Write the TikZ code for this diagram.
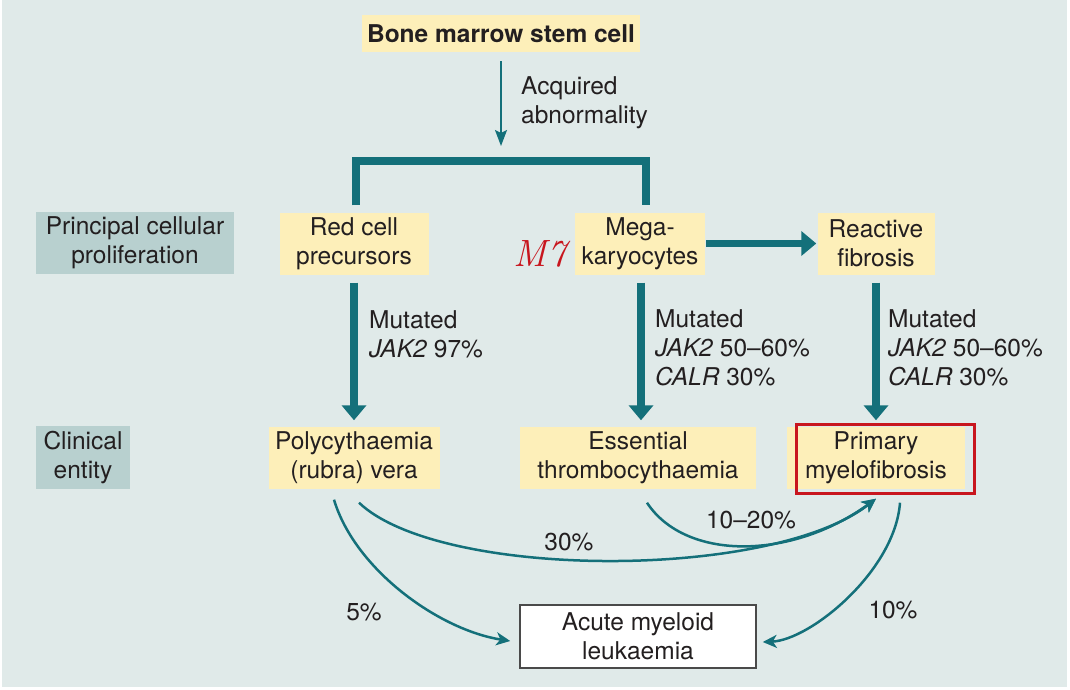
\documentclass[tikz,border=0pt]{standalone}
\usepackage{fontspec}
\setsansfont{TeX Gyre Heros}
\usetikzlibrary{arrows.meta}
\definecolor{bg}{HTML}{E0EAE9}
\definecolor{yel}{HTML}{FDEFB9}
\definecolor{gry}{HTML}{B8D0CF}
\definecolor{tealc}{HTML}{14707A}
\definecolor{ink}{HTML}{231F20}
\definecolor{redc}{HTML}{C8161E}
\definecolor{boxline}{HTML}{4A4A4A}
\begin{document}
\begin{tikzpicture}[x=1pt,y=-1pt,
  every node/.style={font=\sffamily\fontsize{24.5}{29}\selectfont, text=ink},
  ybox/.style={fill=yel, align=center, inner sep=0pt, minimum height=62pt},
  gbox/.style={fill=gry, align=center, inner sep=0pt, minimum height=62pt},
  lbl/.style={anchor=west, align=left, inner sep=0pt},
  pct/.style={inner sep=0pt},
  bigarrow/.style={draw=tealc, line width=7.5pt, -{Triangle[length=15pt,width=24pt]}},
  thinarrow/.style={draw=tealc, line width=2.5pt, -{Stealth[length=14pt,width=13pt,inset=4pt]}},
  acqarrow/.style={draw=tealc, line width=2pt, -{Stealth[length=16pt,width=12pt,inset=3pt]}}
]
\useasboundingbox (0,0) rectangle (1070,690);
\fill[white] (0,0) rectangle (1070,690);
\fill[bg] (2,0) rectangle (1067,687);

% nodes
\node[ybox, minimum width=278pt, minimum height=37pt, font=\sffamily\bfseries\fontsize{24.5}{29}\selectfont] (bone) at (501,33.5) {Bone marrow stem cell};
\node[gbox, minimum width=198pt] (pcp) at (135,243) {Principal cellular\\proliferation};
\node[ybox, minimum width=149pt] (red) at (354,243.5) {Red cell\\precursors};
\node[ybox, minimum width=130pt] (mega) at (640,243.5) {Mega-\\karyocytes};
\node[ybox, minimum width=117pt] (rf) at (876,243.5) {Reactive\\fibrosis};
\node[gbox, minimum width=94pt, minimum height=63pt] (ce) at (83,457.5) {Clinical\\entity};
\node[ybox, minimum width=171pt] (pv) at (354,457.5) {Polycythaemia\\(rubra) vera};
\node[ybox, minimum width=236pt] (et) at (638,457.5) {Essential\\thrombocythaemia};
\node[ybox, minimum width=178pt] (pmf) at (876,457.5) {Primary\\myelofibrosis};
\node[draw=redc, line width=3pt, minimum width=178pt, minimum height=69pt, inner sep=0pt] (pmfframe) at (885.5,459) {};
\node[draw=boxline, line width=1.5pt, fill=white, align=center, inner sep=0pt, minimum width=236pt, minimum height=63pt] (aml) at (638,636.5) {Acute myeloid\\leukaemia};

% handwritten note
\node[inner sep=0pt, text=redc, font=\rmfamily\itshape\fontsize{38}{38}\selectfont] (m7) at (540,254) {M7};

% acquired abnormality
\coordinate (ab) at (501,146);
\draw[acqarrow] ([yshift=-9pt]bone.south) -- (ab);
\node[lbl] (acq) at (521,103) {Acquired\\abnormality};

% bracket
\coordinate (bl) at (356,161);
\coordinate (br) at (646,161);
\draw[tealc, line width=8pt, line join=miter] ([xshift=2pt,yshift=7pt]red.north) -- (bl) -- (br) -- ([xshift=6pt,yshift=7pt]mega.north);

% thick arrows
\draw[bigarrow] ([yshift=-8pt]red.south) -- ([yshift=6pt]pv.north);
\draw[bigarrow] ([xshift=1pt,yshift=-8pt]mega.south) -- ([xshift=3pt,yshift=6pt]et.north);
\draw[bigarrow] ([yshift=-8pt]rf.south) -- ([yshift=6pt]pmf.north);
\draw[bigarrow] ([xshift=1pt]mega.east) -- ([xshift=-1pt]rf.west);

% mutation labels
\node[lbl] (m1) at (369,334) {Mutated\\\textit{JAK2} 97\%};
\node[lbl] (m2) at (655,348) {Mutated\\\textit{JAK2} 50--60\%\\\textit{CALR} 30\%};
\node[lbl] (m3) at (888,348) {Mutated\\\textit{JAK2} 50--60\%\\\textit{CALR} 30\%};

% curved transitions
\draw[thinarrow] ([xshift=-20pt,yshift=-11pt]pv.south) .. controls +(21,70) and +(-71,-11) .. ([xshift=-9pt,yshift=-4.5pt]aml.west);
\draw[thinarrow] ([xshift=5pt,yshift=-14pt]pv.south) .. controls +(81,77) and +(-105,82) .. ([yshift=-10pt]pmf.south);
\draw[thinarrow] ([xshift=9pt,yshift=-14pt]et.south) .. controls +(38,58) and +(-85,62) .. ([yshift=-10pt]pmf.south);
\draw[thinarrow] ([xshift=24pt,yshift=-14pt]pmf.south) .. controls +(-5,68) and +(48,-2) .. ([xshift=6pt,yshift=-5.5pt]aml.east);

% percent labels
\node[pct] (p5) at (364,612) {5\%};
\node[pct] (p30) at (569,542) {30\%};
\node[pct] (p1020) at (751,520) {10--20\%};
\node[pct] (p10) at (893,610) {10\%};
\end{tikzpicture}
\end{document}
